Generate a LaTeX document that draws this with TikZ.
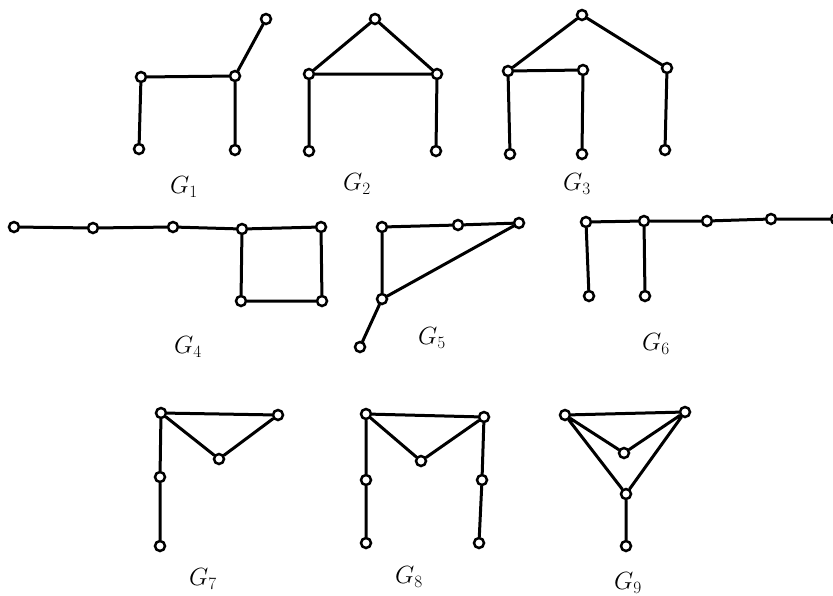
\documentclass[tikz,border=0pt]{standalone}
\begin{document}
\begin{tikzpicture}[x=1pt,y=-1pt,
  v/.style={circle,draw=black,fill=white,line width=2.5pt,inner sep=0pt,minimum size=10pt},
  e/.style={line width=3pt,line cap=round},
  lbl/.style={font=\fontsize{24}{28}\selectfont}]
\useasboundingbox (0,0) rectangle (833,595);
% G1
\node[v] (a1) at (141,77) {};
\node[v] (b1) at (235,76) {};
\node[v] (c1) at (266,19) {};
\node[v] (d1) at (139,149) {};
\node[v] (e1) at (235,150) {};
\draw[e] (a1)--(b1) (b1)--(c1) (a1)--(d1) (b1)--(e1);
\node[lbl] (L1) at (184,187) {$G_1$};
% G2
\node[v] (t2) at (375,19) {};
\node[v] (l2) at (309,74) {};
\node[v] (r2) at (437,74) {};
\node[v] (ld2) at (309,151) {};
\node[v] (rd2) at (436,151) {};
\draw[e] (l2)--(t2) (t2)--(r2) (l2)--(r2) (l2)--(ld2) (r2)--(rd2);
\node[lbl] (L2) at (357,184) {$G_2$};
% G3
\node[v] (t3) at (582,15) {};
\node[v] (l3) at (508,71) {};
\node[v] (m3) at (583,70) {};
\node[v] (r3) at (667,68) {};
\node[v] (ld3) at (510,154) {};
\node[v] (md3) at (582,154) {};
\node[v] (rd3) at (665,150) {};
\draw[e] (l3)--(t3) (t3)--(r3) (l3)--(m3) (l3)--(ld3) (m3)--(md3) (r3)--(rd3);
\node[lbl] (L3) at (577,184) {$G_3$};
% G4
\node[v] (p1) at (14,227) {};
\node[v] (p2) at (93,228) {};
\node[v] (p3) at (173,227) {};
\node[v] (p4) at (242,229) {};
\node[v] (p5) at (321,227) {};
\node[v] (p6) at (241,301) {};
\node[v] (p7) at (322,301) {};
\draw[e] (p1)--(p2) (p2)--(p3) (p3)--(p4) (p4)--(p5) (p4)--(p6) (p5)--(p7) (p6)--(p7);
\node[lbl] (L4) at (188,347) {$G_4$};
% G5
\node[v] (a5) at (382,227) {};
\node[v] (b5) at (458,225) {};
\node[v] (c5) at (519,223) {};
\node[v] (d5) at (382,299) {};
\node[v] (e5) at (360,347) {};
\draw[e] (a5)--(b5) (b5)--(c5) (a5)--(d5) (c5)--(d5) (d5)--(e5);
\node[lbl] (L5) at (432,338) {$G_5$};
% G6
\node[v] (a6) at (586,222) {};
\node[v] (b6) at (644,221) {};
\node[v] (c6) at (707,221) {};
\node[v] (d6) at (771,219) {};
\node[v] (e6) at (836,219) {};
\node[v] (f6) at (589,296) {};
\node[v] (g6) at (645,296) {};
\draw[e] (a6)--(b6) (b6)--(c6) (c6)--(d6) (d6)--(e6) (a6)--(f6) (b6)--(g6);
\node[lbl] (L6) at (656,344) {$G_6$};
% G7
\node[v] (a7) at (161,413) {};
\node[v] (b7) at (278,415) {};
\node[v] (c7) at (219,459) {};
\node[v] (d7) at (160,477) {};
\node[v] (e7) at (160,546) {};
\draw[e] (a7)--(b7) (a7)--(c7) (c7)--(b7) (a7)--(d7) (d7)--(e7);
\node[lbl] (L7) at (203,579) {$G_7$};
% G8
\node[v] (a8) at (366,414) {};
\node[v] (b8) at (484,417) {};
\node[v] (c8) at (421,461) {};
\node[v] (d8) at (366,480) {};
\node[v] (e8) at (482,480) {};
\node[v] (f8) at (366,543) {};
\node[v] (g8) at (479,543) {};
\draw[e] (a8)--(b8) (a8)--(c8) (c8)--(b8) (a8)--(d8) (d8)--(f8) (b8)--(e8) (e8)--(g8);
\node[lbl] (L8) at (409,577) {$G_8$};
% G9
\node[v] (a9) at (565,415) {};
\node[v] (b9) at (685,412) {};
\node[v] (c9) at (624,453) {};
\node[v] (d9) at (626,494) {};
\node[v] (e9) at (626,546) {};
\draw[e] (a9)--(b9) (a9)--(c9) (c9)--(b9) (a9)--(d9) (d9)--(b9) (d9)--(e9);
\node[lbl] (L9) at (628,583) {$G_9$};
\end{tikzpicture}
\end{document}
